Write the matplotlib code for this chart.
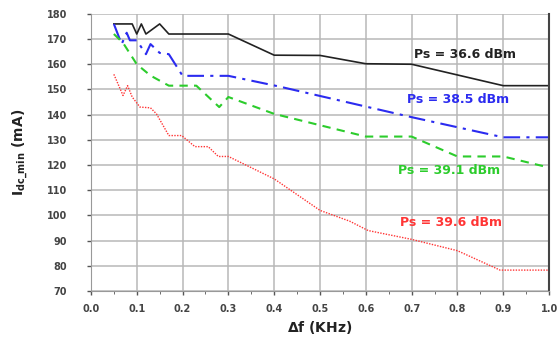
import matplotlib.pyplot as plt
from matplotlib.ticker import MultipleLocator

# I_dc_min vs frequency offset for four source powers
x_366 = [0.05, 0.09, 0.10, 0.11, 0.12, 0.15, 0.17, 0.30, 0.40, 0.50, 0.60, 0.70, 0.90, 1.00]
y_366 = [176, 176, 172, 176, 172, 176, 172, 172, 163.6, 163.5, 160.2, 160, 151.5, 151.5]

x_385 = [0.05, 0.067, 0.078, 0.085, 0.10, 0.12, 0.13, 0.15, 0.17, 0.20, 0.30, 0.41, 0.70, 0.90, 1.00]
y_385 = [176, 168, 172.5, 169.5, 169.5, 164, 168, 164.5, 164, 155.4, 155.4, 151.2, 139, 131, 131]

x_391 = [0.05, 0.07, 0.10, 0.13, 0.17, 0.23, 0.28, 0.30, 0.40, 0.60, 0.70, 0.80, 0.90, 1.00]
y_391 = [172, 168.5, 160, 155.5, 151.5, 151.5, 143, 147, 140.3, 131.3, 131.3, 123.4, 123.4, 119]

x_396 = [0.05, 0.07, 0.08, 0.09, 0.107, 0.13, 0.143, 0.17, 0.198, 0.227, 0.256, 0.278,
         0.30, 0.40, 0.50, 0.565, 0.605, 0.70, 0.80, 0.893, 1.00]
y_396 = [156, 147.6, 151.5, 147, 143, 142.7, 140.3, 131.7, 131.7, 127.3, 127.3, 123.4,
         123.4, 114.5, 102, 97.7, 94, 90.5, 86, 78.3, 78.3]

xticks = [0.0, 0.1, 0.2, 0.3, 0.4, 0.5, 0.6, 0.7, 0.8, 0.9, 1.0]
xlabels = ['0.0', '0.1', '0.2', '0.3', '0.4', '0.5', '0.6', '0.7', '0.8', '0.9', '1.0']
yticks = list(range(70, 181, 10))

fig = plt.figure(figsize=(5.58, 3.38), dpi=100)
ax = fig.add_axes([0.163, 0.139, 0.821, 0.82])

ax.plot(x_366, y_366, color='#222222', lw=1.2, ls='-')
ax.plot(x_385, y_385, color='#2b2bf0', lw=1.5, ls=(0, (8, 3, 1.5, 3)))
ax.plot(x_391, y_391, color='#2ccc2c', lw=1.5, ls=(0, (4, 3)))
ax.plot(x_396, y_396, color='#ff3535', lw=1.0, ls=(0, (1, 1)))

ax.text(0.705, 164, 'Ps = 36.6 dBm', color='#222222', fontsize=9, fontweight='bold', va='center')
ax.text(0.69, 146, 'Ps = 38.5 dBm', color='#2b2bf0', fontsize=9, fontweight='bold', va='center')
ax.text(0.67, 117.8, 'Ps = 39.1 dBm', color='#2ccc2c', fontsize=9, fontweight='bold', va='center')
ax.text(0.675, 97.3, 'Ps = 39.6 dBm', color='#ff3535', fontsize=9, fontweight='bold', va='center')

ax.set_xlim(0, 1.0)
ax.set_ylim(70, 180)
ax.set_xticks(xticks)
ax.set_xticklabels(xlabels)
ax.set_yticks(yticks)
ax.xaxis.set_minor_locator(MultipleLocator(0.05))
ax.tick_params(axis='both', labelsize=7, colors='#555555', length=3, width=1)
ax.tick_params(axis='y', pad=14)
ax.tick_params(axis='x', pad=6)
ax.tick_params(axis='x', which='minor', length=2, color='#555555')
for lab in ax.get_xticklabels() + ax.get_yticklabels():
    lab.set_fontweight('bold')
    lab.set_color('#444444')

ax.grid(True, color='#b8b8b8', lw=1.1)
ax.set_axisbelow(True)
ax.spines['top'].set_visible(False)
ax.spines['left'].set_color('#999999')
ax.spines['bottom'].set_color('#999999')
ax.spines['right'].set_color('#444444')
ax.spines['right'].set_linewidth(1.5)

ax.set_xlabel(r'$\mathbf{\Delta}\mathit{\mathbf{f}}$ (KHz)', fontsize=10, fontweight='bold', color='#222222')
ax.set_ylabel(r'$\mathbf{I_{dc\_min}}$ (mA)', fontsize=10, fontweight='bold', color='#222222', labelpad=12)

fig.savefig('out.png', dpi=100)
